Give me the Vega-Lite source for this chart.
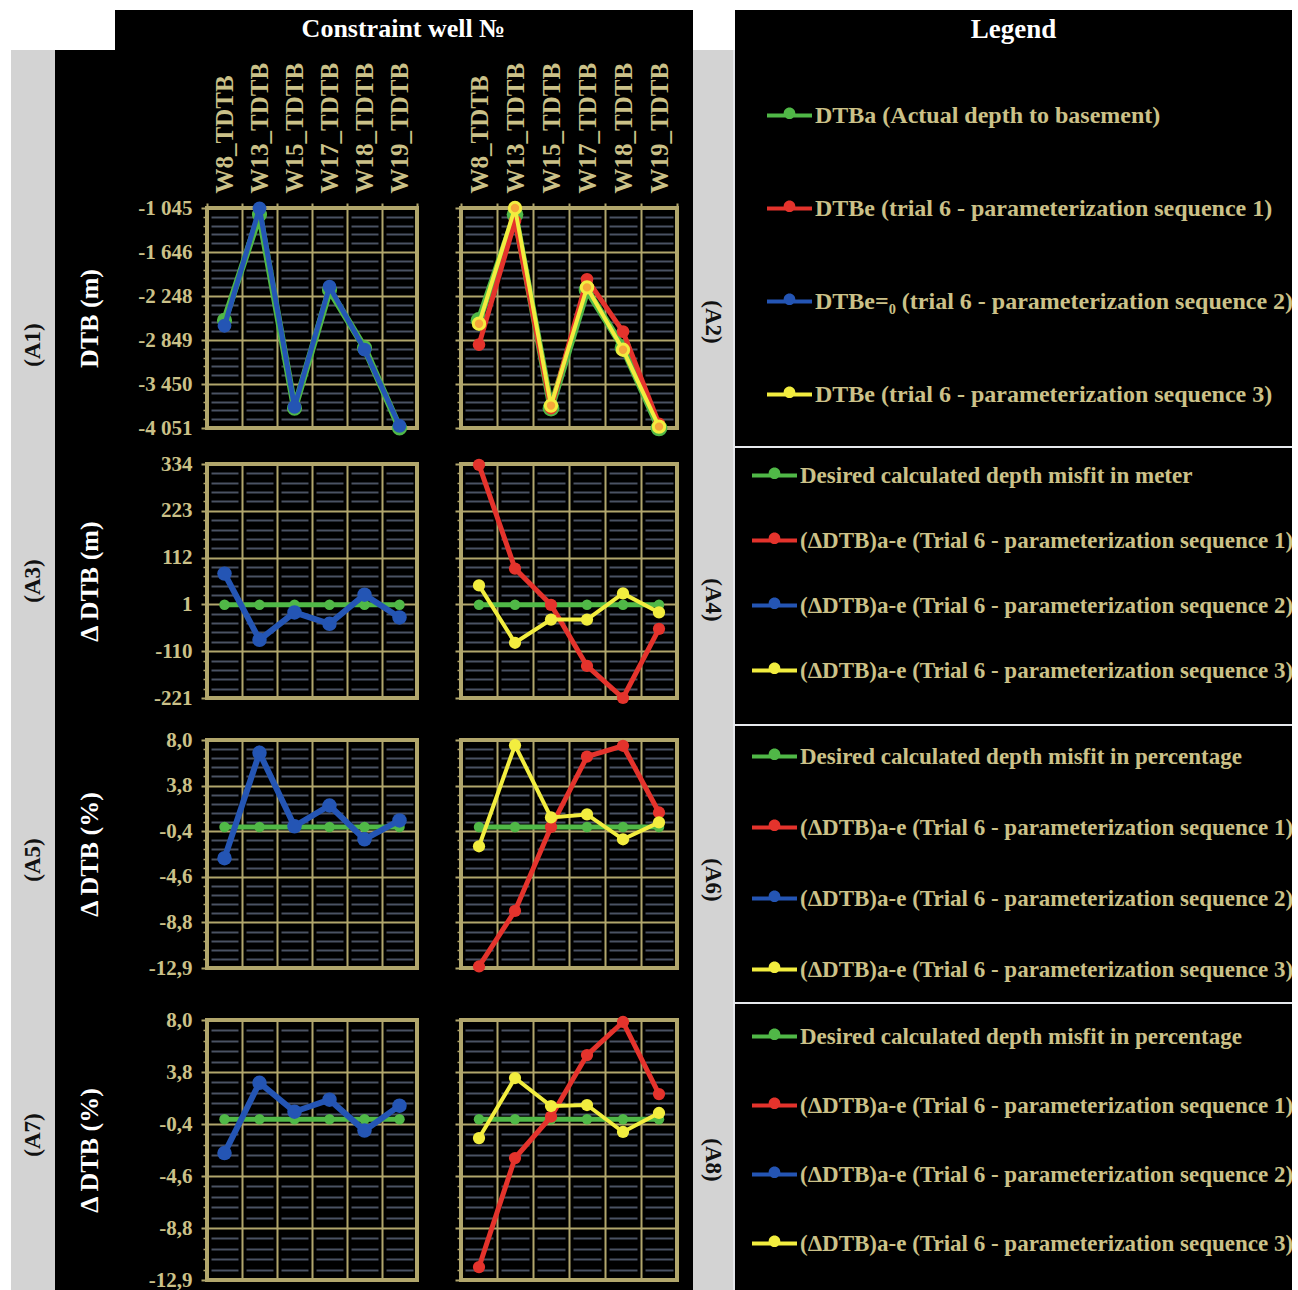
{
"$schema":"https://vega.github.io/schema/vega-lite/v6.json",
"background":"#000000",
"padding":0,
"spacing":0,
"columns":12,
"bounds":"flush",
"align":"each",
"center":false,
"resolve":{"scale":{"color":"independent"},"legend":{"color":"independent"}},
"config":{"view":{"stroke":null},"locale":{"number":{"decimal":",","thousands":" ","grouping":[3],"currency":["",""],"minus":"-"}}},
"data":{"values":[]},
"datasets":{
"dtb":[
{"well":"W8_TDTB","series":"actual","value":-2580},{"well":"W13_TDTB","series":"actual","value":-1135},{"well":"W15_TDTB","series":"actual","value":-3780},{"well":"W17_TDTB","series":"actual","value":-2165},{"well":"W18_TDTB","series":"actual","value":-2955},{"well":"W19_TDTB","series":"actual","value":-4051},
{"well":"W8_TDTB","series":"seq1","value":-2912},{"well":"W13_TDTB","series":"seq1","value":-1221},{"well":"W15_TDTB","series":"seq1","value":-3780},{"well":"W17_TDTB","series":"seq1","value":-2020},{"well":"W18_TDTB","series":"seq1","value":-2734},{"well":"W19_TDTB","series":"seq1","value":-3994},
{"well":"W8_TDTB","series":"seq2","value":-2654},{"well":"W13_TDTB","series":"seq2","value":-1050},{"well":"W15_TDTB","series":"seq2","value":-3762},{"well":"W17_TDTB","series":"seq2","value":-2120},{"well":"W18_TDTB","series":"seq2","value":-2979},{"well":"W19_TDTB","series":"seq2","value":-4021},
{"well":"W8_TDTB","series":"seq3","value":-2626},{"well":"W13_TDTB","series":"seq3","value":-1045},{"well":"W15_TDTB","series":"seq3","value":-3745},{"well":"W17_TDTB","series":"seq3","value":-2130},{"well":"W18_TDTB","series":"seq3","value":-2982},{"well":"W19_TDTB","series":"seq3","value":-4033}],
"dm":[
{"well":"W8_TDTB","series":"actual","value":0},{"well":"W13_TDTB","series":"actual","value":0},{"well":"W15_TDTB","series":"actual","value":0},{"well":"W17_TDTB","series":"actual","value":0},{"well":"W18_TDTB","series":"actual","value":0},{"well":"W19_TDTB","series":"actual","value":0},
{"well":"W8_TDTB","series":"seq1","value":332},{"well":"W13_TDTB","series":"seq1","value":86},{"well":"W15_TDTB","series":"seq1","value":0},{"well":"W17_TDTB","series":"seq1","value":-145},{"well":"W18_TDTB","series":"seq1","value":-221},{"well":"W19_TDTB","series":"seq1","value":-57},
{"well":"W8_TDTB","series":"seq2","value":74},{"well":"W13_TDTB","series":"seq2","value":-83},{"well":"W15_TDTB","series":"seq2","value":-18},{"well":"W17_TDTB","series":"seq2","value":-45},{"well":"W18_TDTB","series":"seq2","value":24},{"well":"W19_TDTB","series":"seq2","value":-30},
{"well":"W8_TDTB","series":"seq3","value":46},{"well":"W13_TDTB","series":"seq3","value":-90},{"well":"W15_TDTB","series":"seq3","value":-35},{"well":"W17_TDTB","series":"seq3","value":-35},{"well":"W18_TDTB","series":"seq3","value":27},{"well":"W19_TDTB","series":"seq3","value":-18}],
"dp5":[
{"well":"W8_TDTB","series":"actual","value":0},{"well":"W13_TDTB","series":"actual","value":0},{"well":"W15_TDTB","series":"actual","value":0},{"well":"W17_TDTB","series":"actual","value":0},{"well":"W18_TDTB","series":"actual","value":0},{"well":"W19_TDTB","series":"actual","value":0},
{"well":"W8_TDTB","series":"seq1","value":-12.8},{"well":"W13_TDTB","series":"seq1","value":-7.7},{"well":"W15_TDTB","series":"seq1","value":0.0},{"well":"W17_TDTB","series":"seq1","value":6.45},{"well":"W18_TDTB","series":"seq1","value":7.45},{"well":"W19_TDTB","series":"seq1","value":1.33},
{"well":"W8_TDTB","series":"seq2","value":-2.86},{"well":"W13_TDTB","series":"seq2","value":6.8},{"well":"W15_TDTB","series":"seq2","value":0.06},{"well":"W17_TDTB","series":"seq2","value":1.97},{"well":"W18_TDTB","series":"seq2","value":-1.13},{"well":"W19_TDTB","series":"seq2","value":0.6},
{"well":"W8_TDTB","series":"seq3","value":-1.77},{"well":"W13_TDTB","series":"seq3","value":7.5},{"well":"W15_TDTB","series":"seq3","value":0.88},{"well":"W17_TDTB","series":"seq3","value":1.15},{"well":"W18_TDTB","series":"seq3","value":-1.13},{"well":"W19_TDTB","series":"seq3","value":0.42}],
"dp7":[
{"well":"W8_TDTB","series":"actual","value":0},{"well":"W13_TDTB","series":"actual","value":0},{"well":"W15_TDTB","series":"actual","value":0},{"well":"W17_TDTB","series":"actual","value":0},{"well":"W18_TDTB","series":"actual","value":0},{"well":"W19_TDTB","series":"actual","value":0},
{"well":"W8_TDTB","series":"seq1","value":-11.9},{"well":"W13_TDTB","series":"seq1","value":-3.13},{"well":"W15_TDTB","series":"seq1","value":0.2},{"well":"W17_TDTB","series":"seq1","value":5.16},{"well":"W18_TDTB","series":"seq1","value":7.82},{"well":"W19_TDTB","series":"seq1","value":2.02},
{"well":"W8_TDTB","series":"seq2","value":-2.73},{"well":"W13_TDTB","series":"seq2","value":2.93},{"well":"W15_TDTB","series":"seq2","value":0.6},{"well":"W17_TDTB","series":"seq2","value":1.57},{"well":"W18_TDTB","series":"seq2","value":-0.92},{"well":"W19_TDTB","series":"seq2","value":1.09},
{"well":"W8_TDTB","series":"seq3","value":-1.52},{"well":"W13_TDTB","series":"seq3","value":3.31},{"well":"W15_TDTB","series":"seq3","value":1.06},{"well":"W17_TDTB","series":"seq3","value":1.14},{"well":"W18_TDTB","series":"seq3","value":-1.03},{"well":"W19_TDTB","series":"seq3","value":0.5}]
},
"concat":[
{"width":11,"height":10,"mark":"point","view":{"fill":"#ffffff"}},
{"width":44,"height":10,"mark":"point","view":{"fill":"#ffffff"}},
{"width":60,"height":10,"mark":"point","view":{"fill":"#ffffff"}},
{"width":92,"height":10,"mark":"point","view":{"fill":"#ffffff"}},
{"width":210,"height":10,"mark":"point","view":{"fill":"#ffffff"}},
{"width":44,"height":10,"mark":"point","view":{"fill":"#ffffff"}},
{"width":216,"height":10,"mark":"point","view":{"fill":"#ffffff"}},
{"width":16,"height":10,"mark":"point","view":{"fill":"#ffffff"}},
{"width":40,"height":10,"mark":"point","view":{"fill":"#ffffff"}},
{"width":2,"height":10,"mark":"point","view":{"fill":"#ffffff"}},
{"width":557,"height":10,"mark":"point","view":{"fill":"#ffffff"}},
{"width":6,"height":10,"mark":"point","view":{"fill":"#ffffff"}},

{"width":11,"height":40,"mark":"point","view":{"fill":"#ffffff"}},
{"width":44,"height":40,"mark":"point","view":{"fill":"#ffffff"}},
{"width":60,"height":40,"mark":"point","view":{"fill":"#ffffff"}},
{"width":92,"height":40,"mark":"point"},
{"width":210,"height":40,"mark":"point"},
{"width":44,"height":40,"mark":"point"},
{"width":216,"height":40,"mark":"point"},
{"width":16,"height":40,"mark":"point"},
{"width":40,"height":40,"mark":"point","view":{"fill":"#ffffff"}},
{"width":2,"height":40,"mark":"point","view":{"fill":"#ffffff"}},
{"width":557,"height":40,"layer":[
 {"data":{"values":[{"t":"Legend"}]},"mark":{"type":"text","font":"Liberation Serif","fontWeight":"bold","fontSize":27,"color":"#ffffff"},"encoding":{"text":{"field":"t","type":"nominal"}}},
 {"data":{"values":[{"s":"DTBa (Actual depth to basement)"},{"s":"DTBe (trial 6 - parameterization sequence 1)"},{"s":"DTBe=₀ (trial 6 - parameterization sequence 2)"},{"s":"DTBe (trial 6 - parameterization sequence 3)"}]},"transform":[{"filter":"false"}],"mark":{"type":"point","filled":true,"opacity":1},
  "encoding":{"color":{"field":"s","type":"nominal","scale":{"domain":["DTBa (Actual depth to basement)","DTBe (trial 6 - parameterization sequence 1)","DTBe=₀ (trial 6 - parameterization sequence 2)","DTBe (trial 6 - parameterization sequence 3)"],"range":["#50b847","#e4332c","#2455b4","#f2ed3f"]},
  "legend":{"orient":"none","legendX":32,"legendY":83,"title":null,"symbolType":"M-1,-0.09H1V0.09H-1Z M0.26,-0.1A0.26,0.26 0 1,1 -0.26,-0.1A0.26,0.26 0 1,1 0.26,-0.1Z","symbolSize":2025,"symbolStrokeWidth":0,"symbolOpacity":1,"labelFont":"Liberation Serif","labelFontWeight":"bold","labelFontSize":24,"labelColor":"#cbc188","labelLimit":900,"labelOffset":3,"padding":0,"rowPadding":58}}}}
]},
{"width":6,"height":40,"mark":"point","view":{"fill":"#ffffff"}},

{"width":11,"height":158,"mark":"point","view":{"fill":"#ffffff"}},
{"width":44,"height":158,"mark":"point","view":{"fill":"#d3d3d3"}},
{"width":60,"height":158,"mark":"point"},
{"width":92,"height":158,"mark":"point"},
{"width":210,"height":158,"mark":"point"},
{"width":44,"height":158,"mark":"point"},
{"width":216,"height":158,"mark":"point"},
{"width":16,"height":158,"mark":"point"},
{"width":40,"height":158,"mark":"point","view":{"fill":"#d3d3d3"}},
{"width":2,"height":158,"mark":"point","view":{"fill":"#e6e8ec"}},
{"width":557,"height":158,"mark":"point"},
{"width":6,"height":158,"mark":"point","view":{"fill":"#ffffff"}},

{"width":11,"height":220,"mark":"point","view":{"fill":"#ffffff"}},
{"width":44,"height":220,"view":{"fill":"#d3d3d3"},"data":{"values":[{"t":"(A1)"}]},"mark":{"type":"text","angle":270,"font":"Liberation Serif","fontWeight":"bold","fontSize":23,"color":"#111111","dx":-27},"encoding":{"text":{"field":"t","type":"nominal"}}},
{"width":60,"height":220,"mark":"point"},
{"width":92,"height":220,"mark":"point"},
{"width":210,"height":220,"data":{"name":"dtb"},"view":{"stroke":"#b1a66c","strokeWidth":4},
 "encoding":{"x":{"field":"well","type":"nominal","sort":null,"scale":{"type":"band","domain":["W8_TDTB","W13_TDTB","W15_TDTB","W17_TDTB","W18_TDTB","W19_TDTB"],"paddingInner":0,"paddingOuter":0},
  "axis":{"orient":"top","title":"Constraint well №","titleX":196,"titleY":-180,"titleAlign":"center","titleBaseline":"middle","titleAngle":0,"titleFont":"Liberation Serif","titleFontWeight":"bold","titleFontSize":26,"titleColor":"#ffffff","labelAngle":270,"labelFont":"Liberation Serif","labelFontWeight":"bold","labelFontSize":25,"labelColor":"#cbc188","labelPadding":10,"labelOverlap":false,"ticks":true,"tickSize":5,"tickWidth":2,"tickColor":"#b1a66c","tickBand":"extent","domain":false,"grid":true,"gridColor":"#b1a66c","gridWidth":2}}},
 "layer":[
  {"transform":[{"filter":"false"}],"mark":"point","encoding":{"y":{"field":"value","type":"quantitative","scale":{"domain":[-4051.4,-1045],"nice":false,"zero":false},"axis":{"orient":"left","values":[-1165.26,-1285.51,-1405.77,-1526.02,-1766.54,-1886.79,-2007.05,-2127.3,-2367.82,-2488.07,-2608.33,-2728.58,-2969.1,-3089.35,-3209.61,-3329.86,-3570.38,-3690.63,-3810.89,-3931.14],"labels":false,"ticks":true,"tickSize":4,"tickWidth":1.5,"tickColor":"#b1a66c","domain":false,"title":null,"grid":true,"gridColor":"#4a5263","gridWidth":2,"gridDash":[27,8],"gridDashOffset":31}}}},
  {"transform":[{"filter":"datum.series==='actual'"}],"mark":{"type":"line","color":"#50b847","strokeWidth":7,"point":{"filled":true,"size":230,"color":"#50b847","opacity":1}},"encoding":{"y":{"field":"value","type":"quantitative","scale":{"domain":[-4051.4,-1045],"nice":false,"zero":false},"axis":{"orient":"left","values":[-1045,-1646.28,-2247.56,-2848.84,-3450.12,-4051.4],"format":",.0f","title":"DTB (m)","titleX":-118,"titleBaseline":"middle","titleAngle":270,"titleFont":"Liberation Serif","titleFontWeight":"bold","titleFontSize":26,"titleColor":"#ffffff","labelFont":"Liberation Serif","labelFontWeight":"bold","labelFontSize":21,"labelColor":"#cbc188","labelPadding":9,"labelOverlap":false,"ticks":true,"tickSize":6,"tickWidth":2,"tickColor":"#b1a66c","domain":false,"grid":true,"gridColor":"#b1a66c","gridWidth":2}}}},
  {"transform":[{"filter":"datum.series==='seq2'"}],"mark":{"type":"line","color":"#2455b4","strokeWidth":5,"point":{"filled":true,"size":190,"color":"#2455b4","opacity":1}},"encoding":{"y":{"field":"value","type":"quantitative","scale":{"domain":[-4051.4,-1045],"nice":false,"zero":false},"axis":null}}}
 ],
 "resolve":{"axis":{"y":"independent"}}},
{"width":44,"height":220,"mark":"point"},
{"width":216,"height":220,"data":{"name":"dtb"},"view":{"stroke":"#b1a66c","strokeWidth":4},
 "encoding":{"x":{"field":"well","type":"nominal","sort":null,"scale":{"type":"band","domain":["W8_TDTB","W13_TDTB","W15_TDTB","W17_TDTB","W18_TDTB","W19_TDTB"],"paddingInner":0,"paddingOuter":0},
  "axis":{"orient":"top","title":null,"labelAngle":270,"labelFont":"Liberation Serif","labelFontWeight":"bold","labelFontSize":25,"labelColor":"#cbc188","labelPadding":10,"labelOverlap":false,"ticks":true,"tickSize":5,"tickWidth":2,"tickColor":"#b1a66c","tickBand":"extent","domain":false,"grid":true,"gridColor":"#b1a66c","gridWidth":2}}},
 "layer":[
  {"transform":[{"filter":"false"}],"mark":"point","encoding":{"y":{"field":"value","type":"quantitative","scale":{"domain":[-4051.4,-1045],"nice":false,"zero":false},"axis":{"orient":"left","values":[-1165.26,-1285.51,-1405.77,-1526.02,-1766.54,-1886.79,-2007.05,-2127.3,-2367.82,-2488.07,-2608.33,-2728.58,-2969.1,-3089.35,-3209.61,-3329.86,-3570.38,-3690.63,-3810.89,-3931.14],"labels":false,"ticks":true,"tickSize":4,"tickWidth":1.5,"tickColor":"#b1a66c","domain":false,"title":null,"grid":true,"gridColor":"#4a5263","gridWidth":2,"gridDash":[28,8],"gridDashOffset":32}}}},
  {"transform":[{"filter":"datum.series==='actual'"}],"mark":{"type":"line","color":"#50b847","strokeWidth":7,"point":{"filled":true,"size":280,"color":"#50b847","opacity":1}},"encoding":{"y":{"field":"value","type":"quantitative","scale":{"domain":[-4051.4,-1045],"nice":false,"zero":false},"axis":{"orient":"left","values":[-1045,-1646.28,-2247.56,-2848.84,-3450.12,-4051.4],"labels":false,"title":null,"ticks":true,"tickSize":6,"tickWidth":2,"tickColor":"#b1a66c","domain":false,"grid":true,"gridColor":"#b1a66c","gridWidth":2}}}},
  {"transform":[{"filter":"datum.series==='seq1'"}],"mark":{"type":"line","color":"#e4332c","strokeWidth":5,"point":{"filled":true,"size":160,"color":"#e4332c","opacity":1}},"encoding":{"y":{"field":"value","type":"quantitative","scale":{"domain":[-4051.4,-1045],"nice":false,"zero":false},"axis":null}}},
  {"transform":[{"filter":"datum.series==='seq3'"}],"mark":{"type":"line","color":"#f2ed3f","strokeWidth":4,"point":{"filled":true,"size":130,"fill":"#f5a63a","stroke":"#f2ed3f","strokeWidth":3,"opacity":1}},"encoding":{"y":{"field":"value","type":"quantitative","scale":{"domain":[-4051.4,-1045],"nice":false,"zero":false},"axis":null}}}
 ],
 "resolve":{"axis":{"y":"independent"}}},
{"width":16,"height":220,"mark":"point"},
{"width":40,"height":220,"view":{"fill":"#d3d3d3"},"data":{"values":[{"t":"(A2)"}]},"mark":{"type":"text","angle":90,"font":"Liberation Serif","fontWeight":"bold","fontSize":23,"color":"#111111","dx":4},"encoding":{"text":{"field":"t","type":"nominal"}}},
{"width":2,"height":220,"mark":"point","view":{"fill":"#e6e8ec"}},
{"width":557,"height":220,"mark":"point"},
{"width":6,"height":220,"mark":"point","view":{"fill":"#ffffff"}},

{"width":11,"height":18,"mark":"point","view":{"fill":"#ffffff"}},
{"width":44,"height":18,"mark":"point","view":{"fill":"#d3d3d3"}},
{"width":60,"height":18,"mark":"point"},
{"width":92,"height":18,"mark":"point"},
{"width":210,"height":18,"mark":"point"},
{"width":44,"height":18,"mark":"point"},
{"width":216,"height":18,"mark":"point"},
{"width":16,"height":18,"mark":"point"},
{"width":40,"height":18,"mark":"point","view":{"fill":"#d3d3d3"}},
{"width":2,"height":18,"mark":"point","view":{"fill":"#e6e8ec"}},
{"width":557,"height":18,"mark":"point"},
{"width":6,"height":18,"mark":"point","view":{"fill":"#ffffff"}},

{"width":11,"height":2,"mark":"point","view":{"fill":"#ffffff"}},
{"width":44,"height":2,"mark":"point","view":{"fill":"#d3d3d3"}},
{"width":60,"height":2,"mark":"point"},
{"width":92,"height":2,"mark":"point"},
{"width":210,"height":2,"mark":"point"},
{"width":44,"height":2,"mark":"point"},
{"width":216,"height":2,"mark":"point"},
{"width":16,"height":2,"mark":"point"},
{"width":40,"height":2,"mark":"point","view":{"fill":"#d3d3d3"}},
{"width":2,"height":2,"mark":"point","view":{"fill":"#e6e8ec"}},
{"width":557,"height":2,"view":{"fill":"#e6e8ec"},"data":{"values":[{"s":"Desired calculated depth misfit in meter"},{"s":"(ΔDTB)a-e (Trial 6 - parameterization sequence 1)"},{"s":"(ΔDTB)a-e (Trial 6 - parameterization sequence 2)"},{"s":"(ΔDTB)a-e (Trial 6 - parameterization sequence 3)"}]},"transform":[{"filter":"false"}],"mark":{"type":"point","filled":true,"opacity":1},
 "encoding":{"color":{"field":"s","type":"nominal","scale":{"domain":["Desired calculated depth misfit in meter","(ΔDTB)a-e (Trial 6 - parameterization sequence 1)","(ΔDTB)a-e (Trial 6 - parameterization sequence 2)","(ΔDTB)a-e (Trial 6 - parameterization sequence 3)"],"range":["#50b847","#e4332c","#2455b4","#f2ed3f"]},
 "legend":{"orient":"none","legendX":17,"legendY":7,"title":null,"symbolType":"M-1,-0.09H1V0.09H-1Z M0.26,-0.1A0.26,0.26 0 1,1 -0.26,-0.1A0.26,0.26 0 1,1 0.26,-0.1Z","symbolSize":2025,"symbolStrokeWidth":0,"symbolOpacity":1,"labelFont":"Liberation Serif","labelFontWeight":"bold","labelFontSize":23,"labelColor":"#cbc188","labelLimit":900,"labelOffset":3,"padding":0,"rowPadding":30}}}},
{"width":6,"height":2,"mark":"point","view":{"fill":"#ffffff"}},

{"width":11,"height":16,"mark":"point","view":{"fill":"#ffffff"}},
{"width":44,"height":16,"mark":"point","view":{"fill":"#d3d3d3"}},
{"width":60,"height":16,"mark":"point"},
{"width":92,"height":16,"mark":"point"},
{"width":210,"height":16,"mark":"point"},
{"width":44,"height":16,"mark":"point"},
{"width":216,"height":16,"mark":"point"},
{"width":16,"height":16,"mark":"point"},
{"width":40,"height":16,"mark":"point","view":{"fill":"#d3d3d3"}},
{"width":2,"height":16,"mark":"point","view":{"fill":"#e6e8ec"}},
{"width":557,"height":16,"mark":"point"},
{"width":6,"height":16,"mark":"point","view":{"fill":"#ffffff"}},

{"width":11,"height":234,"mark":"point","view":{"fill":"#ffffff"}},
{"width":44,"height":234,"view":{"fill":"#d3d3d3"},"data":{"values":[{"t":"(A3)"}]},"mark":{"type":"text","angle":270,"font":"Liberation Serif","fontWeight":"bold","fontSize":23,"color":"#111111","dx":0},"encoding":{"text":{"field":"t","type":"nominal"}}},
{"width":60,"height":234,"mark":"point"},
{"width":92,"height":234,"mark":"point"},
{"width":210,"height":234,"data":{"name":"dm"},"view":{"stroke":"#b1a66c","strokeWidth":4},
 "encoding":{"x":{"field":"well","type":"nominal","sort":null,"scale":{"type":"band","domain":["W8_TDTB","W13_TDTB","W15_TDTB","W17_TDTB","W18_TDTB","W19_TDTB"],"paddingInner":0,"paddingOuter":0},
  "axis":{"orient":"bottom","labels":false,"ticks":false,"domain":false,"title":null,"grid":true,"gridColor":"#b1a66c","gridWidth":2,"tickBand":"extent"}}},
 "layer":[
  {"transform":[{"filter":"false"}],"mark":"point","encoding":{"y":{"field":"value","type":"quantitative","scale":{"domain":[-221,334],"nice":false,"zero":false},"axis":{"orient":"left","values":[311.8,289.6,267.4,245.2,200.8,178.6,156.4,134.2,89.8,67.6,45.4,23.2,-21.2,-43.4,-65.6,-87.8,-132.2,-154.4,-176.6,-198.8],"labels":false,"ticks":true,"tickSize":4,"tickWidth":1.5,"tickColor":"#b1a66c","domain":false,"title":null,"grid":true,"gridColor":"#4a5263","gridWidth":2,"gridDash":[27,8],"gridDashOffset":31}}}},
  {"transform":[{"filter":"datum.series==='actual'"}],"mark":{"type":"line","color":"#50b847","strokeWidth":5,"point":{"filled":true,"size":110,"color":"#50b847","opacity":1}},"encoding":{"y":{"field":"value","type":"quantitative","scale":{"domain":[-221,334],"nice":false,"zero":false},"axis":{"orient":"left","values":[334,223,112,1,-110,-221],"format":".0f","title":"Δ DTB (m)","titleX":-118,"titleBaseline":"middle","titleAngle":270,"titleFont":"Liberation Serif","titleFontWeight":"bold","titleFontSize":26,"titleColor":"#ffffff","labelFont":"Liberation Serif","labelFontWeight":"bold","labelFontSize":21,"labelColor":"#cbc188","labelPadding":9,"labelOverlap":false,"ticks":true,"tickSize":6,"tickWidth":2,"tickColor":"#b1a66c","domain":false,"grid":true,"gridColor":"#b1a66c","gridWidth":2}}}},
  {"transform":[{"filter":"datum.series==='seq2'"}],"mark":{"type":"line","color":"#2455b4","strokeWidth":6,"point":{"filled":true,"size":210,"color":"#2455b4","opacity":1}},"encoding":{"y":{"field":"value","type":"quantitative","scale":{"domain":[-221,334],"nice":false,"zero":false},"axis":null}}}
 ],
 "resolve":{"axis":{"y":"independent"}}},
{"width":44,"height":234,"mark":"point"},
{"width":216,"height":234,"data":{"name":"dm"},"view":{"stroke":"#b1a66c","strokeWidth":4},
 "encoding":{"x":{"field":"well","type":"nominal","sort":null,"scale":{"type":"band","domain":["W8_TDTB","W13_TDTB","W15_TDTB","W17_TDTB","W18_TDTB","W19_TDTB"],"paddingInner":0,"paddingOuter":0},
  "axis":{"orient":"bottom","labels":false,"ticks":false,"domain":false,"title":null,"grid":true,"gridColor":"#b1a66c","gridWidth":2,"tickBand":"extent"}}},
 "layer":[
  {"transform":[{"filter":"false"}],"mark":"point","encoding":{"y":{"field":"value","type":"quantitative","scale":{"domain":[-221,334],"nice":false,"zero":false},"axis":{"orient":"left","values":[311.8,289.6,267.4,245.2,200.8,178.6,156.4,134.2,89.8,67.6,45.4,23.2,-21.2,-43.4,-65.6,-87.8,-132.2,-154.4,-176.6,-198.8],"labels":false,"ticks":true,"tickSize":4,"tickWidth":1.5,"tickColor":"#b1a66c","domain":false,"title":null,"grid":true,"gridColor":"#4a5263","gridWidth":2,"gridDash":[28,8],"gridDashOffset":32}}}},
  {"transform":[{"filter":"datum.series==='actual'"}],"mark":{"type":"line","color":"#50b847","strokeWidth":5,"point":{"filled":true,"size":110,"color":"#50b847","opacity":1}},"encoding":{"y":{"field":"value","type":"quantitative","scale":{"domain":[-221,334],"nice":false,"zero":false},"axis":{"orient":"left","values":[334,223,112,1,-110,-221],"labels":false,"title":null,"ticks":true,"tickSize":6,"tickWidth":2,"tickColor":"#b1a66c","domain":false,"grid":true,"gridColor":"#b1a66c","gridWidth":2}}}},
  {"transform":[{"filter":"datum.series==='seq1'"}],"mark":{"type":"line","color":"#e4332c","strokeWidth":5,"point":{"filled":true,"size":150,"color":"#e4332c","opacity":1}},"encoding":{"y":{"field":"value","type":"quantitative","scale":{"domain":[-221,334],"nice":false,"zero":false},"axis":null}}},
  {"transform":[{"filter":"datum.series==='seq3'"}],"mark":{"type":"line","color":"#f2ed3f","strokeWidth":4,"point":{"filled":true,"size":150,"color":"#f2ed3f","opacity":1}},"encoding":{"y":{"field":"value","type":"quantitative","scale":{"domain":[-221,334],"nice":false,"zero":false},"axis":null}}}
 ],
 "resolve":{"axis":{"y":"independent"}}},
{"width":16,"height":234,"mark":"point"},
{"width":40,"height":234,"view":{"fill":"#d3d3d3"},"data":{"values":[{"t":"(A4)"}]},"mark":{"type":"text","angle":90,"font":"Liberation Serif","fontWeight":"bold","fontSize":23,"color":"#111111","dx":19},"encoding":{"text":{"field":"t","type":"nominal"}}},
{"width":2,"height":234,"mark":"point","view":{"fill":"#e6e8ec"}},
{"width":557,"height":234,"mark":"point"},
{"width":6,"height":234,"mark":"point","view":{"fill":"#ffffff"}},

{"width":11,"height":26,"mark":"point","view":{"fill":"#ffffff"}},
{"width":44,"height":26,"mark":"point","view":{"fill":"#d3d3d3"}},
{"width":60,"height":26,"mark":"point"},
{"width":92,"height":26,"mark":"point"},
{"width":210,"height":26,"mark":"point"},
{"width":44,"height":26,"mark":"point"},
{"width":216,"height":26,"mark":"point"},
{"width":16,"height":26,"mark":"point"},
{"width":40,"height":26,"mark":"point","view":{"fill":"#d3d3d3"}},
{"width":2,"height":26,"mark":"point","view":{"fill":"#e6e8ec"}},
{"width":557,"height":26,"mark":"point"},
{"width":6,"height":26,"mark":"point","view":{"fill":"#ffffff"}},

{"width":11,"height":2,"mark":"point","view":{"fill":"#ffffff"}},
{"width":44,"height":2,"mark":"point","view":{"fill":"#d3d3d3"}},
{"width":60,"height":2,"mark":"point"},
{"width":92,"height":2,"mark":"point"},
{"width":210,"height":2,"mark":"point"},
{"width":44,"height":2,"mark":"point"},
{"width":216,"height":2,"mark":"point"},
{"width":16,"height":2,"mark":"point"},
{"width":40,"height":2,"mark":"point","view":{"fill":"#d3d3d3"}},
{"width":2,"height":2,"mark":"point","view":{"fill":"#e6e8ec"}},
{"width":557,"height":2,"view":{"fill":"#e6e8ec"},"data":{"values":[{"s":"Desired calculated depth misfit in percentage"},{"s":"(ΔDTB)a-e (Trial 6 - parameterization sequence 1)"},{"s":"(ΔDTB)a-e (Trial 6 - parameterization sequence 2)"},{"s":"(ΔDTB)a-e (Trial 6 - parameterization sequence 3)"}]},"transform":[{"filter":"false"}],"mark":{"type":"point","filled":true,"opacity":1},
 "encoding":{"color":{"field":"s","type":"nominal","scale":{"domain":["Desired calculated depth misfit in percentage","(ΔDTB)a-e (Trial 6 - parameterization sequence 1)","(ΔDTB)a-e (Trial 6 - parameterization sequence 2)","(ΔDTB)a-e (Trial 6 - parameterization sequence 3)"],"range":["#50b847","#e4332c","#2455b4","#f2ed3f"]},
 "legend":{"orient":"none","legendX":17,"legendY":10,"title":null,"symbolType":"M-1,-0.09H1V0.09H-1Z M0.26,-0.1A0.26,0.26 0 1,1 -0.26,-0.1A0.26,0.26 0 1,1 0.26,-0.1Z","symbolSize":2025,"symbolStrokeWidth":0,"symbolOpacity":1,"labelFont":"Liberation Serif","labelFontWeight":"bold","labelFontSize":23,"labelColor":"#cbc188","labelLimit":900,"labelOffset":3,"padding":0,"rowPadding":36}}}},
{"width":6,"height":2,"mark":"point","view":{"fill":"#ffffff"}},

{"width":11,"height":14,"mark":"point","view":{"fill":"#ffffff"}},
{"width":44,"height":14,"mark":"point","view":{"fill":"#d3d3d3"}},
{"width":60,"height":14,"mark":"point"},
{"width":92,"height":14,"mark":"point"},
{"width":210,"height":14,"mark":"point"},
{"width":44,"height":14,"mark":"point"},
{"width":216,"height":14,"mark":"point"},
{"width":16,"height":14,"mark":"point"},
{"width":40,"height":14,"mark":"point","view":{"fill":"#d3d3d3"}},
{"width":2,"height":14,"mark":"point","view":{"fill":"#e6e8ec"}},
{"width":557,"height":14,"mark":"point"},
{"width":6,"height":14,"mark":"point","view":{"fill":"#ffffff"}},

{"width":11,"height":228,"mark":"point","view":{"fill":"#ffffff"}},
{"width":44,"height":228,"view":{"fill":"#d3d3d3"},"data":{"values":[{"t":"(A5)"}]},"mark":{"type":"text","angle":270,"font":"Liberation Serif","fontWeight":"bold","fontSize":23,"color":"#111111","dx":-6},"encoding":{"text":{"field":"t","type":"nominal"}}},
{"width":60,"height":228,"mark":"point"},
{"width":92,"height":228,"mark":"point"},
{"width":210,"height":228,"data":{"name":"dp5"},"view":{"stroke":"#b1a66c","strokeWidth":4},
 "encoding":{"x":{"field":"well","type":"nominal","sort":null,"scale":{"type":"band","domain":["W8_TDTB","W13_TDTB","W15_TDTB","W17_TDTB","W18_TDTB","W19_TDTB"],"paddingInner":0,"paddingOuter":0},
  "axis":{"orient":"bottom","labels":false,"ticks":false,"domain":false,"title":null,"grid":true,"gridColor":"#b1a66c","gridWidth":2,"tickBand":"extent"}}},
 "layer":[
  {"transform":[{"filter":"false"}],"mark":"point","encoding":{"y":{"field":"value","type":"quantitative","scale":{"domain":[-12.94,7.98],"nice":false,"zero":false},"axis":{"orient":"left","values":[7.1432,6.3064,5.4696,4.6328,2.9592,2.1224,1.2856,0.4488,-1.2248,-2.0616,-2.8984,-3.7352,-5.4088,-6.2456,-7.0824,-7.9192,-9.5928,-10.4296,-11.2664,-12.1032],"labels":false,"ticks":true,"tickSize":4,"tickWidth":1.5,"tickColor":"#b1a66c","domain":false,"title":null,"grid":true,"gridColor":"#4a5263","gridWidth":2,"gridDash":[27,8],"gridDashOffset":31}}}},
  {"transform":[{"filter":"datum.series==='actual'"}],"mark":{"type":"line","color":"#50b847","strokeWidth":5,"point":{"filled":true,"size":110,"color":"#50b847","opacity":1}},"encoding":{"y":{"field":"value","type":"quantitative","scale":{"domain":[-12.94,7.98],"nice":false,"zero":false},"axis":{"orient":"left","values":[7.98,3.796,-0.388,-4.572,-8.756,-12.94],"format":".1f","title":"Δ DTB (%)","titleX":-118,"titleBaseline":"middle","titleAngle":270,"titleFont":"Liberation Serif","titleFontWeight":"bold","titleFontSize":26,"titleColor":"#ffffff","labelFont":"Liberation Serif","labelFontWeight":"bold","labelFontSize":21,"labelColor":"#cbc188","labelPadding":9,"labelOverlap":false,"ticks":true,"tickSize":6,"tickWidth":2,"tickColor":"#b1a66c","domain":false,"grid":true,"gridColor":"#b1a66c","gridWidth":2}}}},
  {"transform":[{"filter":"datum.series==='seq2'"}],"mark":{"type":"line","color":"#2455b4","strokeWidth":6,"point":{"filled":true,"size":210,"color":"#2455b4","opacity":1}},"encoding":{"y":{"field":"value","type":"quantitative","scale":{"domain":[-12.94,7.98],"nice":false,"zero":false},"axis":null}}}
 ],
 "resolve":{"axis":{"y":"independent"}}},
{"width":44,"height":228,"mark":"point"},
{"width":216,"height":228,"data":{"name":"dp5"},"view":{"stroke":"#b1a66c","strokeWidth":4},
 "encoding":{"x":{"field":"well","type":"nominal","sort":null,"scale":{"type":"band","domain":["W8_TDTB","W13_TDTB","W15_TDTB","W17_TDTB","W18_TDTB","W19_TDTB"],"paddingInner":0,"paddingOuter":0},
  "axis":{"orient":"bottom","labels":false,"ticks":false,"domain":false,"title":null,"grid":true,"gridColor":"#b1a66c","gridWidth":2,"tickBand":"extent"}}},
 "layer":[
  {"transform":[{"filter":"false"}],"mark":"point","encoding":{"y":{"field":"value","type":"quantitative","scale":{"domain":[-12.94,7.98],"nice":false,"zero":false},"axis":{"orient":"left","values":[7.1432,6.3064,5.4696,4.6328,2.9592,2.1224,1.2856,0.4488,-1.2248,-2.0616,-2.8984,-3.7352,-5.4088,-6.2456,-7.0824,-7.9192,-9.5928,-10.4296,-11.2664,-12.1032],"labels":false,"ticks":true,"tickSize":4,"tickWidth":1.5,"tickColor":"#b1a66c","domain":false,"title":null,"grid":true,"gridColor":"#4a5263","gridWidth":2,"gridDash":[28,8],"gridDashOffset":32}}}},
  {"transform":[{"filter":"datum.series==='actual'"}],"mark":{"type":"line","color":"#50b847","strokeWidth":5,"point":{"filled":true,"size":110,"color":"#50b847","opacity":1}},"encoding":{"y":{"field":"value","type":"quantitative","scale":{"domain":[-12.94,7.98],"nice":false,"zero":false},"axis":{"orient":"left","values":[7.98,3.796,-0.388,-4.572,-8.756,-12.94],"labels":false,"title":null,"ticks":true,"tickSize":6,"tickWidth":2,"tickColor":"#b1a66c","domain":false,"grid":true,"gridColor":"#b1a66c","gridWidth":2}}}},
  {"transform":[{"filter":"datum.series==='seq1'"}],"mark":{"type":"line","color":"#e4332c","strokeWidth":5,"point":{"filled":true,"size":150,"color":"#e4332c","opacity":1}},"encoding":{"y":{"field":"value","type":"quantitative","scale":{"domain":[-12.94,7.98],"nice":false,"zero":false},"axis":null}}},
  {"transform":[{"filter":"datum.series==='seq3'"}],"mark":{"type":"line","color":"#f2ed3f","strokeWidth":4,"point":{"filled":true,"size":150,"color":"#f2ed3f","opacity":1}},"encoding":{"y":{"field":"value","type":"quantitative","scale":{"domain":[-12.94,7.98],"nice":false,"zero":false},"axis":null}}}
 ],
 "resolve":{"axis":{"y":"independent"}}},
{"width":16,"height":228,"mark":"point"},
{"width":40,"height":228,"view":{"fill":"#d3d3d3"},"data":{"values":[{"t":"(A6)"}]},"mark":{"type":"text","angle":90,"font":"Liberation Serif","fontWeight":"bold","fontSize":23,"color":"#111111","dx":26},"encoding":{"text":{"field":"t","type":"nominal"}}},
{"width":2,"height":228,"mark":"point","view":{"fill":"#e6e8ec"}},
{"width":557,"height":228,"mark":"point"},
{"width":6,"height":228,"mark":"point","view":{"fill":"#ffffff"}},

{"width":11,"height":34,"mark":"point","view":{"fill":"#ffffff"}},
{"width":44,"height":34,"mark":"point","view":{"fill":"#d3d3d3"}},
{"width":60,"height":34,"mark":"point"},
{"width":92,"height":34,"mark":"point"},
{"width":210,"height":34,"mark":"point"},
{"width":44,"height":34,"mark":"point"},
{"width":216,"height":34,"mark":"point"},
{"width":16,"height":34,"mark":"point"},
{"width":40,"height":34,"mark":"point","view":{"fill":"#d3d3d3"}},
{"width":2,"height":34,"mark":"point","view":{"fill":"#e6e8ec"}},
{"width":557,"height":34,"mark":"point"},
{"width":6,"height":34,"mark":"point","view":{"fill":"#ffffff"}},

{"width":11,"height":2,"mark":"point","view":{"fill":"#ffffff"}},
{"width":44,"height":2,"mark":"point","view":{"fill":"#d3d3d3"}},
{"width":60,"height":2,"mark":"point"},
{"width":92,"height":2,"mark":"point"},
{"width":210,"height":2,"mark":"point"},
{"width":44,"height":2,"mark":"point"},
{"width":216,"height":2,"mark":"point"},
{"width":16,"height":2,"mark":"point"},
{"width":40,"height":2,"mark":"point","view":{"fill":"#d3d3d3"}},
{"width":2,"height":2,"mark":"point","view":{"fill":"#e6e8ec"}},
{"width":557,"height":2,"view":{"fill":"#e6e8ec"},"data":{"values":[{"s":"Desired calculated depth misfit in percentage"},{"s":"(ΔDTB)a-e (Trial 6 - parameterization sequence 1)"},{"s":"(ΔDTB)a-e (Trial 6 - parameterization sequence 2)"},{"s":"(ΔDTB)a-e (Trial 6 - parameterization sequence 3)"}]},"transform":[{"filter":"false"}],"mark":{"type":"point","filled":true,"opacity":1},
 "encoding":{"color":{"field":"s","type":"nominal","scale":{"domain":["Desired calculated depth misfit in percentage","(ΔDTB)a-e (Trial 6 - parameterization sequence 1)","(ΔDTB)a-e (Trial 6 - parameterization sequence 2)","(ΔDTB)a-e (Trial 6 - parameterization sequence 3)"],"range":["#50b847","#e4332c","#2455b4","#f2ed3f"]},
 "legend":{"orient":"none","legendX":17,"legendY":12,"title":null,"symbolType":"M-1,-0.09H1V0.09H-1Z M0.26,-0.1A0.26,0.26 0 1,1 -0.26,-0.1A0.26,0.26 0 1,1 0.26,-0.1Z","symbolSize":2025,"symbolStrokeWidth":0,"symbolOpacity":1,"labelFont":"Liberation Serif","labelFontWeight":"bold","labelFontSize":23,"labelColor":"#cbc188","labelLimit":900,"labelOffset":3,"padding":0,"rowPadding":34}}}},
{"width":6,"height":2,"mark":"point","view":{"fill":"#ffffff"}},

{"width":11,"height":16,"mark":"point","view":{"fill":"#ffffff"}},
{"width":44,"height":16,"mark":"point","view":{"fill":"#d3d3d3"}},
{"width":60,"height":16,"mark":"point"},
{"width":92,"height":16,"mark":"point"},
{"width":210,"height":16,"mark":"point"},
{"width":44,"height":16,"mark":"point"},
{"width":216,"height":16,"mark":"point"},
{"width":16,"height":16,"mark":"point"},
{"width":40,"height":16,"mark":"point","view":{"fill":"#d3d3d3"}},
{"width":2,"height":16,"mark":"point","view":{"fill":"#e6e8ec"}},
{"width":557,"height":16,"mark":"point"},
{"width":6,"height":16,"mark":"point","view":{"fill":"#ffffff"}},

{"width":11,"height":260,"mark":"point","view":{"fill":"#ffffff"}},
{"width":44,"height":260,"view":{"fill":"#d3d3d3"},"data":{"values":[{"t":"(A7)"}]},"mark":{"type":"text","angle":270,"font":"Liberation Serif","fontWeight":"bold","fontSize":23,"color":"#111111","dx":15},"encoding":{"text":{"field":"t","type":"nominal"}}},
{"width":60,"height":260,"mark":"point"},
{"width":92,"height":260,"mark":"point"},
{"width":210,"height":260,"data":{"name":"dp7"},"view":{"stroke":"#b1a66c","strokeWidth":4},
 "encoding":{"x":{"field":"well","type":"nominal","sort":null,"scale":{"type":"band","domain":["W8_TDTB","W13_TDTB","W15_TDTB","W17_TDTB","W18_TDTB","W19_TDTB"],"paddingInner":0,"paddingOuter":0},
  "axis":{"orient":"bottom","labels":false,"ticks":false,"domain":false,"title":null,"grid":true,"gridColor":"#b1a66c","gridWidth":2,"tickBand":"extent"}}},
 "layer":[
  {"transform":[{"filter":"false"}],"mark":"point","encoding":{"y":{"field":"value","type":"quantitative","scale":{"domain":[-12.94,7.98],"nice":false,"zero":false},"axis":{"orient":"left","values":[7.1432,6.3064,5.4696,4.6328,2.9592,2.1224,1.2856,0.4488,-1.2248,-2.0616,-2.8984,-3.7352,-5.4088,-6.2456,-7.0824,-7.9192,-9.5928,-10.4296,-11.2664,-12.1032],"labels":false,"ticks":true,"tickSize":4,"tickWidth":1.5,"tickColor":"#b1a66c","domain":false,"title":null,"grid":true,"gridColor":"#4a5263","gridWidth":2,"gridDash":[27,8],"gridDashOffset":31}}}},
  {"transform":[{"filter":"datum.series==='actual'"}],"mark":{"type":"line","color":"#50b847","strokeWidth":5,"point":{"filled":true,"size":110,"color":"#50b847","opacity":1}},"encoding":{"y":{"field":"value","type":"quantitative","scale":{"domain":[-12.94,7.98],"nice":false,"zero":false},"axis":{"orient":"left","values":[7.98,3.796,-0.388,-4.572,-8.756,-12.94],"format":".1f","title":"Δ DTB (%)","titleX":-118,"titleBaseline":"middle","titleAngle":270,"titleFont":"Liberation Serif","titleFontWeight":"bold","titleFontSize":26,"titleColor":"#ffffff","labelFont":"Liberation Serif","labelFontWeight":"bold","labelFontSize":21,"labelColor":"#cbc188","labelPadding":9,"labelOverlap":false,"ticks":true,"tickSize":6,"tickWidth":2,"tickColor":"#b1a66c","domain":false,"grid":true,"gridColor":"#b1a66c","gridWidth":2}}}},
  {"transform":[{"filter":"datum.series==='seq2'"}],"mark":{"type":"line","color":"#2455b4","strokeWidth":6,"point":{"filled":true,"size":210,"color":"#2455b4","opacity":1}},"encoding":{"y":{"field":"value","type":"quantitative","scale":{"domain":[-12.94,7.98],"nice":false,"zero":false},"axis":null}}}
 ],
 "resolve":{"axis":{"y":"independent"}}},
{"width":44,"height":260,"mark":"point"},
{"width":216,"height":260,"data":{"name":"dp7"},"view":{"stroke":"#b1a66c","strokeWidth":4},
 "encoding":{"x":{"field":"well","type":"nominal","sort":null,"scale":{"type":"band","domain":["W8_TDTB","W13_TDTB","W15_TDTB","W17_TDTB","W18_TDTB","W19_TDTB"],"paddingInner":0,"paddingOuter":0},
  "axis":{"orient":"bottom","labels":false,"ticks":false,"domain":false,"title":null,"grid":true,"gridColor":"#b1a66c","gridWidth":2,"tickBand":"extent"}}},
 "layer":[
  {"transform":[{"filter":"false"}],"mark":"point","encoding":{"y":{"field":"value","type":"quantitative","scale":{"domain":[-12.94,7.98],"nice":false,"zero":false},"axis":{"orient":"left","values":[7.1432,6.3064,5.4696,4.6328,2.9592,2.1224,1.2856,0.4488,-1.2248,-2.0616,-2.8984,-3.7352,-5.4088,-6.2456,-7.0824,-7.9192,-9.5928,-10.4296,-11.2664,-12.1032],"labels":false,"ticks":true,"tickSize":4,"tickWidth":1.5,"tickColor":"#b1a66c","domain":false,"title":null,"grid":true,"gridColor":"#4a5263","gridWidth":2,"gridDash":[28,8],"gridDashOffset":32}}}},
  {"transform":[{"filter":"datum.series==='actual'"}],"mark":{"type":"line","color":"#50b847","strokeWidth":5,"point":{"filled":true,"size":110,"color":"#50b847","opacity":1}},"encoding":{"y":{"field":"value","type":"quantitative","scale":{"domain":[-12.94,7.98],"nice":false,"zero":false},"axis":{"orient":"left","values":[7.98,3.796,-0.388,-4.572,-8.756,-12.94],"labels":false,"title":null,"ticks":true,"tickSize":6,"tickWidth":2,"tickColor":"#b1a66c","domain":false,"grid":true,"gridColor":"#b1a66c","gridWidth":2}}}},
  {"transform":[{"filter":"datum.series==='seq1'"}],"mark":{"type":"line","color":"#e4332c","strokeWidth":5,"point":{"filled":true,"size":150,"color":"#e4332c","opacity":1}},"encoding":{"y":{"field":"value","type":"quantitative","scale":{"domain":[-12.94,7.98],"nice":false,"zero":false},"axis":null}}},
  {"transform":[{"filter":"datum.series==='seq3'"}],"mark":{"type":"line","color":"#f2ed3f","strokeWidth":4,"point":{"filled":true,"size":150,"color":"#f2ed3f","opacity":1}},"encoding":{"y":{"field":"value","type":"quantitative","scale":{"domain":[-12.94,7.98],"nice":false,"zero":false},"axis":null}}}
 ],
 "resolve":{"axis":{"y":"independent"}}},
{"width":16,"height":260,"mark":"point"},
{"width":40,"height":260,"view":{"fill":"#d3d3d3"},"data":{"values":[{"t":"(A8)"}]},"mark":{"type":"text","angle":90,"font":"Liberation Serif","fontWeight":"bold","fontSize":23,"color":"#111111","dx":10},"encoding":{"text":{"field":"t","type":"nominal"}}},
{"width":2,"height":260,"mark":"point","view":{"fill":"#e6e8ec"}},
{"width":557,"height":260,"mark":"point"},
{"width":6,"height":260,"mark":"point","view":{"fill":"#ffffff"}},

{"width":11,"height":10,"mark":"point","view":{"fill":"#ffffff"}},
{"width":44,"height":10,"mark":"point","view":{"fill":"#d3d3d3"}},
{"width":60,"height":10,"mark":"point"},
{"width":92,"height":10,"mark":"point"},
{"width":210,"height":10,"mark":"point"},
{"width":44,"height":10,"mark":"point"},
{"width":216,"height":10,"mark":"point"},
{"width":16,"height":10,"mark":"point"},
{"width":40,"height":10,"mark":"point","view":{"fill":"#d3d3d3"}},
{"width":2,"height":10,"mark":"point","view":{"fill":"#e6e8ec"}},
{"width":557,"height":10,"mark":"point"},
{"width":6,"height":10,"mark":"point","view":{"fill":"#ffffff"}}
]
}
